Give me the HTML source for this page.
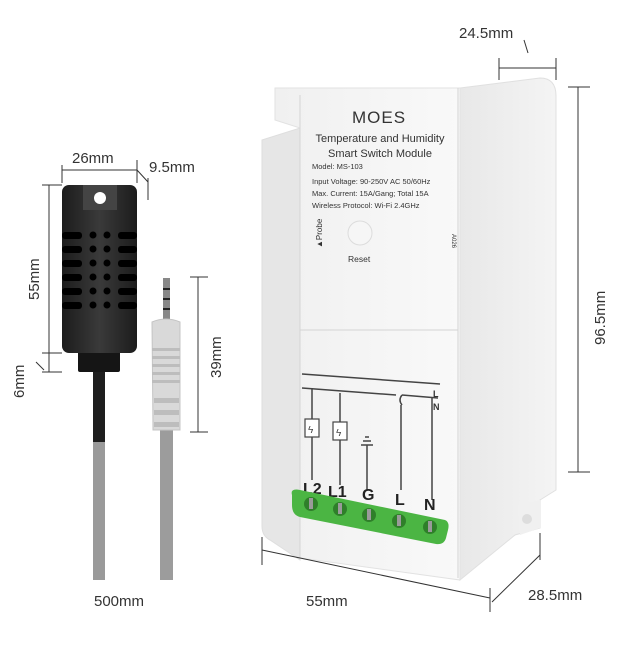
<!DOCTYPE html>
<html><head><meta charset="utf-8"><style>
html,body{margin:0;padding:0;background:#fff;}
svg{display:block;font-family:"Liberation Sans",sans-serif;}
</style></head><body>
<svg width="643" height="652" viewBox="0 0 643 652" xmlns="http://www.w3.org/2000/svg">
<defs>
<linearGradient id="side" x1="0" x2="1"><stop offset="0" stop-color="#e8e8e8"/><stop offset="1" stop-color="#f4f4f4"/></linearGradient>
<linearGradient id="front" x1="0" x2="1"><stop offset="0" stop-color="#f0f0f0"/><stop offset="1" stop-color="#f9f9f9"/></linearGradient>
<linearGradient id="blk" x1="0" x2="1"><stop offset="0" stop-color="#1c1c1c"/><stop offset=".5" stop-color="#3a3a3a"/><stop offset="1" stop-color="#1c1c1c"/></linearGradient>
</defs>
<rect width="643" height="652" fill="#fff"/>
<g stroke="#333" stroke-width="1" fill="none">
<line x1="62" y1="170" x2="137" y2="170"/><line x1="62" y1="165" x2="62" y2="183"/><line x1="137" y1="160" x2="137" y2="183"/>
<line x1="137" y1="170" x2="148" y2="182"/><line x1="148" y1="178" x2="148" y2="200"/>
<line x1="49" y1="185" x2="49" y2="372"/><line x1="42" y1="185" x2="62" y2="185"/><line x1="42" y1="353" x2="62" y2="353"/><line x1="42" y1="372" x2="62" y2="372"/>
<line x1="36" y1="362" x2="44" y2="370"/>
<line x1="198" y1="277" x2="198" y2="432"/><line x1="190" y1="277" x2="208" y2="277"/><line x1="190" y1="432" x2="208" y2="432"/>
</g>
<text x="72" y="163" font-size="15" fill="#333">26mm</text>
<text x="149" y="172" font-size="15" fill="#333">9.5mm</text>
<text transform="translate(39,300) rotate(-90)" font-size="15" fill="#333">55mm</text>
<text transform="translate(24,398) rotate(-90)" font-size="15" fill="#333">6mm</text>
<text transform="translate(221,378) rotate(-90)" font-size="15" fill="#333">39mm</text>
<rect x="93" y="370" width="12" height="210" fill="#9a9a9a"/>
<rect x="93" y="370" width="12" height="72" fill="#1e1e1e"/>
<rect x="78" y="350" width="42" height="22" rx="2" fill="#151515"/>
<rect x="62" y="185" width="75" height="168" rx="7" fill="url(#blk)"/>
<rect x="83" y="185" width="34" height="25" fill="#444"/>
<circle cx="100" cy="198" r="6" fill="#fff"/>
<g fill="#000">
<rect x="62" y="232" width="20" height="7" rx="3"/><rect x="62" y="246" width="20" height="7" rx="3"/><rect x="62" y="260" width="20" height="7" rx="3"/><rect x="62" y="274" width="20" height="7" rx="3"/><rect x="62" y="288" width="20" height="7" rx="3"/><rect x="62" y="302" width="20" height="7" rx="3"/>
<rect x="118" y="232" width="19" height="7" rx="3"/><rect x="118" y="246" width="19" height="7" rx="3"/><rect x="118" y="260" width="19" height="7" rx="3"/><rect x="118" y="274" width="19" height="7" rx="3"/><rect x="118" y="288" width="19" height="7" rx="3"/><rect x="118" y="302" width="19" height="7" rx="3"/>
<circle cx="93" cy="235" r="3.5"/><circle cx="107" cy="235" r="3.5"/><circle cx="93" cy="249" r="3.5"/><circle cx="107" cy="249" r="3.5"/><circle cx="93" cy="263" r="3.5"/><circle cx="107" cy="263" r="3.5"/><circle cx="93" cy="277" r="3.5"/><circle cx="107" cy="277" r="3.5"/><circle cx="93" cy="291" r="3.5"/><circle cx="107" cy="291" r="3.5"/><circle cx="93" cy="305" r="3.5"/><circle cx="107" cy="305" r="3.5"/>
</g>
<rect x="160" y="430" width="13" height="150" fill="#9c9c9c"/>
<rect x="163" y="278" width="7" height="42" fill="#888"/>
<rect x="163" y="288" width="7" height="2" fill="#222"/><rect x="163" y="298" width="7" height="2" fill="#222"/><rect x="163" y="308" width="7" height="2" fill="#222"/>
<path d="M152 322 Q166 316 180 322 L180 430 L153 430 Z" fill="#d9d9d9" stroke="#c4c4c4"/>
<g fill="#bdbdbd"><rect x="152" y="348" width="28" height="3"/><rect x="152" y="356" width="28" height="3"/><rect x="152" y="364" width="28" height="3"/><rect x="152" y="372" width="28" height="3"/><rect x="152" y="380" width="28" height="3"/><rect x="154" y="398" width="25" height="5"/><rect x="154" y="410" width="25" height="5"/><rect x="154" y="422" width="25" height="5"/></g>
<path d="M460 88 L540 78 Q556 78 556 96 L556 490 L540 500 L540 528 L515 535 L460 580 Z" fill="url(#side)" stroke="#e0e0e0"/>
<path d="M262 140 L300 128 L300 560 L270 540 Q262 536 262 526 Z" fill="#e6e6e6" stroke="#dedede"/>
<path d="M275 88 L460 88 L460 580 L300 558 L300 128 L275 120 Z" fill="url(#front)" stroke="#e2e2e2"/>
<path d="M300 95 L300 558 M458 88 L458 578 M300 330 L458 330" stroke="#d4d4d4" fill="none"/>
<path d="M518 505 L540 500 L540 528 L520 535 Z" fill="#f0f0f0"/>
<circle cx="527" cy="519" r="5" fill="#ddd"/>
<text x="352" y="123" font-size="17" fill="#333" letter-spacing="1">MOES</text>
<text x="380" y="142" font-size="11" fill="#333" text-anchor="middle">Temperature and Humidity</text>
<text x="380" y="157" font-size="11" fill="#333" text-anchor="middle">Smart Switch Module</text>
<g font-size="7.5" fill="#333"><text x="312" y="169">Model: MS-103</text><text x="312" y="184">Input Voltage: 90-250V AC 50/60Hz</text><text x="312" y="196">Max. Current: 15A/Gang; Total 15A</text><text x="312" y="208">Wireless Protocol: Wi-Fi 2.4GHz</text></g>
<text transform="translate(322,248) rotate(-90)" font-size="8" fill="#333">▲Probe</text>
<text transform="translate(452,234) rotate(90)" font-size="6" fill="#333">A026</text>
<circle cx="360" cy="233" r="12" fill="#f6f6f6" stroke="#dcdcdc"/>
<text x="348" y="262" font-size="8.5" fill="#333">Reset</text>
<g stroke="#444" stroke-width="1.5" fill="none">
<line x1="302" y1="374" x2="440" y2="384"/><line x1="302" y1="388" x2="396" y2="395"/><path d="M402 395 Q398 400 402 405"/><line x1="402" y1="395" x2="438" y2="398"/>
<line x1="312" y1="388" x2="312" y2="480"/><line x1="340" y1="393" x2="340" y2="485"/>
<line x1="401" y1="405" x2="401" y2="490"/><line x1="432" y1="398" x2="432" y2="500"/>
<line x1="367" y1="445" x2="367" y2="490"/><line x1="361" y1="445" x2="373" y2="445"/><line x1="363" y1="441" x2="371" y2="441"/><line x1="365" y1="437" x2="369" y2="437"/>
</g>
<rect x="305" y="419" width="14" height="18" fill="#fff" stroke="#444" stroke-width="1.2"/>
<rect x="333" y="422" width="14" height="18" fill="#fff" stroke="#444" stroke-width="1.2"/>
<text x="308" y="433" font-size="10" fill="#444">ϟ</text><text x="336" y="436" font-size="10" fill="#444">ϟ</text>
<text x="433" y="397" font-size="9" font-weight="bold" fill="#333">L</text><text x="433" y="410" font-size="9" font-weight="bold" fill="#333">N</text>
<g font-size="16" fill="#222" font-weight="bold"><text x="303" y="494">L2</text><text x="328" y="497">L1</text><text x="362" y="500">G</text><text x="395" y="505">L</text><text x="424" y="510">N</text></g>
<path d="M292 495 Q290 488 300 490 L445 520 Q450 522 448 530 L446 538 Q444 545 436 544 L300 517 Q292 515 292 505 Z" fill="#4bb543"/>
<g fill="#2f7f2a"><circle cx="311" cy="504" r="7"/><circle cx="340" cy="509" r="7"/><circle cx="369" cy="515" r="7"/><circle cx="399" cy="521" r="7"/><circle cx="430" cy="527" r="7"/></g>
<g fill="#9a9a9a"><rect x="309" y="498" width="4" height="11"/><rect x="338" y="503" width="4" height="11"/><rect x="367" y="509" width="4" height="11"/><rect x="397" y="515" width="4" height="11"/><rect x="428" y="521" width="4" height="11"/></g>
<g stroke="#333" stroke-width="1" fill="none">
<line x1="499" y1="68" x2="556" y2="68"/><line x1="499" y1="58" x2="499" y2="80"/><line x1="556" y1="58" x2="556" y2="80"/><line x1="524" y1="40" x2="528" y2="53"/>
<line x1="578" y1="87" x2="578" y2="472"/><line x1="568" y1="87" x2="590" y2="87"/><line x1="568" y1="472" x2="590" y2="472"/>
<line x1="262" y1="550" x2="490" y2="598"/><line x1="262" y1="537" x2="262" y2="565"/><line x1="490" y1="588" x2="490" y2="612"/>
<line x1="492" y1="602" x2="540" y2="555"/><line x1="540" y1="533" x2="540" y2="560"/>
</g>
<text x="459" y="38" font-size="15" fill="#333">24.5mm</text>
<text transform="translate(605,345) rotate(-90)" font-size="15" fill="#333">96.5mm</text>
<text x="306" y="606" font-size="15" fill="#333">55mm</text>
<text x="528" y="600" font-size="15" fill="#333">28.5mm</text>
<text x="94" y="606" font-size="15" fill="#333">500mm</text>
</svg>
</body></html>
